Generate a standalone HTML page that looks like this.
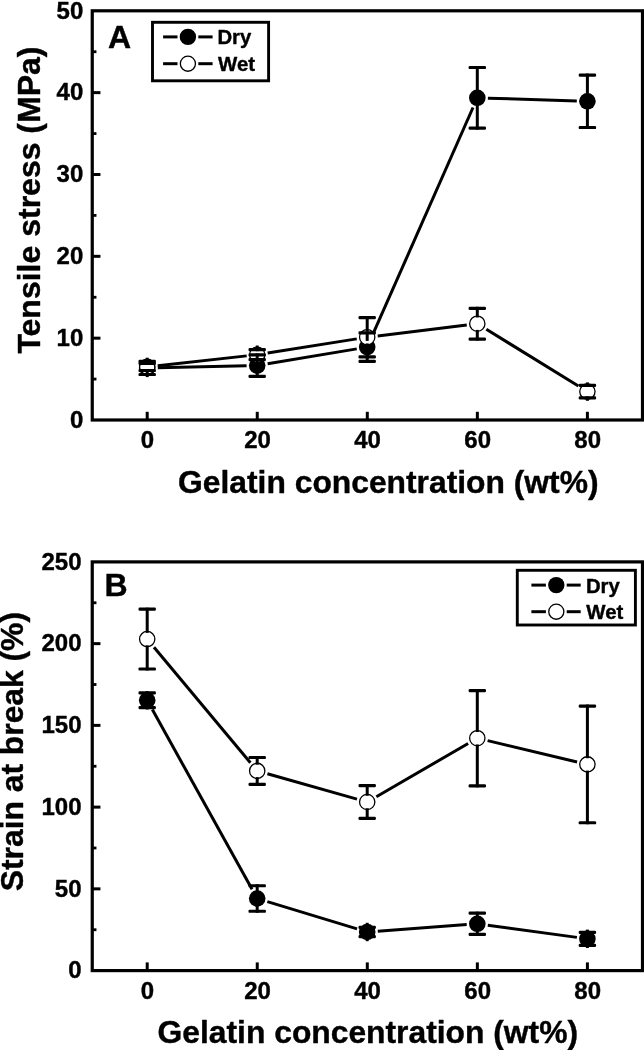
<!DOCTYPE html>
<html lang="en"><head><meta charset="utf-8"><title>Tensile stress and strain at break vs gelatin concentration</title>
<style>html,body{margin:0;padding:0;background:#fff}text{stroke:#000;stroke-width:0.4px;stroke-linejoin:round}body{width:644px;height:1050px;overflow:hidden}svg{display:block}</style>
</head><body>
<svg width="644" height="1050" viewBox="0 0 644 1050" font-family='"Liberation Sans", Arial, Helvetica, sans-serif' fill="#000">
<rect width="644" height="1050" fill="#fff"/>
<rect x="92.25" y="10.8" width="550.25" height="409.2" fill="none" stroke="#000" stroke-width="3.2"/>
<text x="83.3" y="427.80" text-anchor="end" font-size="24" font-weight="bold">0</text>
<line x1="92.25" y1="379.08" x2="96.45" y2="379.08" stroke="#000" stroke-width="2.8"/>
<line x1="92.25" y1="338.16" x2="100.45" y2="338.16" stroke="#000" stroke-width="3"/>
<text x="83.3" y="345.96" text-anchor="end" font-size="24" font-weight="bold">10</text>
<line x1="92.25" y1="297.24" x2="96.45" y2="297.24" stroke="#000" stroke-width="2.8"/>
<line x1="92.25" y1="256.32" x2="100.45" y2="256.32" stroke="#000" stroke-width="3"/>
<text x="83.3" y="264.12" text-anchor="end" font-size="24" font-weight="bold">20</text>
<line x1="92.25" y1="215.40" x2="96.45" y2="215.40" stroke="#000" stroke-width="2.8"/>
<line x1="92.25" y1="174.48" x2="100.45" y2="174.48" stroke="#000" stroke-width="3"/>
<text x="83.3" y="182.28" text-anchor="end" font-size="24" font-weight="bold">30</text>
<line x1="92.25" y1="133.56" x2="96.45" y2="133.56" stroke="#000" stroke-width="2.8"/>
<line x1="92.25" y1="92.64" x2="100.45" y2="92.64" stroke="#000" stroke-width="3"/>
<text x="83.3" y="100.44" text-anchor="end" font-size="24" font-weight="bold">40</text>
<line x1="92.25" y1="51.72" x2="96.45" y2="51.72" stroke="#000" stroke-width="2.8"/>
<text x="83.3" y="18.60" text-anchor="end" font-size="24" font-weight="bold">50</text>
<line x1="147.20" y1="420.0" x2="147.20" y2="411.8" stroke="#000" stroke-width="3"/>
<text x="147.50" y="448.20" text-anchor="middle" font-size="24" font-weight="bold">0</text>
<line x1="257.25" y1="420.0" x2="257.25" y2="411.8" stroke="#000" stroke-width="3"/>
<text x="257.55" y="448.20" text-anchor="middle" font-size="24" font-weight="bold">20</text>
<line x1="367.30" y1="420.0" x2="367.30" y2="411.8" stroke="#000" stroke-width="3"/>
<text x="367.60" y="448.20" text-anchor="middle" font-size="24" font-weight="bold">40</text>
<line x1="477.35" y1="420.0" x2="477.35" y2="411.8" stroke="#000" stroke-width="3"/>
<text x="477.65" y="448.20" text-anchor="middle" font-size="24" font-weight="bold">60</text>
<line x1="587.40" y1="420.0" x2="587.40" y2="411.8" stroke="#000" stroke-width="3"/>
<text x="587.70" y="448.20" text-anchor="middle" font-size="24" font-weight="bold">80</text>
<line x1="157.80" y1="367.68" x2="246.60" y2="365.82" stroke="#000" stroke-width="3.0"/>
<line x1="267.65" y1="363.84" x2="356.75" y2="348.86" stroke="#000" stroke-width="3.0"/>
<line x1="371.48" y1="337.40" x2="473.02" y2="107.50" stroke="#000" stroke-width="3.0"/>
<line x1="487.89" y1="98.14" x2="576.81" y2="100.96" stroke="#000" stroke-width="3.0"/>
<circle cx="147.20" cy="367.90" r="8.3" fill="#000"/>
<circle cx="257.20" cy="365.60" r="8.3" fill="#000"/>
<circle cx="367.20" cy="347.10" r="8.3" fill="#000"/>
<circle cx="477.30" cy="97.80" r="8.3" fill="#000"/>
<circle cx="587.40" cy="101.30" r="8.3" fill="#000"/>
<line x1="157.74" y1="365.73" x2="246.66" y2="355.87" stroke="#000" stroke-width="3.0"/>
<line x1="267.67" y1="353.03" x2="356.73" y2="338.87" stroke="#000" stroke-width="3.0"/>
<line x1="377.72" y1="335.91" x2="466.78" y2="324.99" stroke="#000" stroke-width="3.0"/>
<line x1="486.32" y1="329.26" x2="578.38" y2="386.04" stroke="#000" stroke-width="3.0"/>
<circle cx="147.20" cy="366.90" r="7.65" fill="#fff" stroke="#000" stroke-width="1.3"/>
<circle cx="257.20" cy="354.70" r="7.65" fill="#fff" stroke="#000" stroke-width="1.3"/>
<circle cx="367.20" cy="337.20" r="7.65" fill="#fff" stroke="#000" stroke-width="1.3"/>
<circle cx="477.30" cy="323.70" r="7.65" fill="#fff" stroke="#000" stroke-width="1.3"/>
<circle cx="587.40" cy="391.60" r="7.65" fill="#fff" stroke="#000" stroke-width="1.3"/>
<line x1="147.20" y1="360.20" x2="147.20" y2="361.30" stroke="#000" stroke-width="3.0" stroke-linecap="square"/>
<rect x="138.50" y="359.70" width="17.4" height="3.2" rx="1.2" fill="#000"/>
<line x1="147.20" y1="375.60" x2="147.20" y2="374.50" stroke="#000" stroke-width="3.0" stroke-linecap="square"/>
<rect x="138.50" y="372.90" width="17.4" height="3.2" rx="1.2" fill="#000"/>
<line x1="257.20" y1="357.90" x2="257.20" y2="354.90" stroke="#000" stroke-width="3.0" stroke-linecap="square"/>
<rect x="248.50" y="353.30" width="17.4" height="3.2" rx="1.2" fill="#000"/>
<line x1="257.20" y1="373.30" x2="257.20" y2="376.30" stroke="#000" stroke-width="3.0" stroke-linecap="square"/>
<rect x="248.50" y="374.70" width="17.4" height="3.2" rx="1.2" fill="#000"/>
<line x1="367.20" y1="339.40" x2="367.20" y2="332.80" stroke="#000" stroke-width="3.0" stroke-linecap="square"/>
<rect x="358.50" y="331.20" width="17.4" height="3.2" rx="1.2" fill="#000"/>
<line x1="367.20" y1="354.80" x2="367.20" y2="361.40" stroke="#000" stroke-width="3.0" stroke-linecap="square"/>
<rect x="358.50" y="359.80" width="17.4" height="3.2" rx="1.2" fill="#000"/>
<line x1="477.30" y1="90.10" x2="477.30" y2="67.50" stroke="#000" stroke-width="3.0" stroke-linecap="square"/>
<rect x="468.60" y="65.90" width="17.4" height="3.2" rx="1.2" fill="#000"/>
<line x1="477.30" y1="105.50" x2="477.30" y2="128.10" stroke="#000" stroke-width="3.0" stroke-linecap="square"/>
<rect x="468.60" y="126.50" width="17.4" height="3.2" rx="1.2" fill="#000"/>
<line x1="587.40" y1="93.60" x2="587.40" y2="75.10" stroke="#000" stroke-width="3.0" stroke-linecap="square"/>
<rect x="578.70" y="73.50" width="17.4" height="3.2" rx="1.2" fill="#000"/>
<line x1="587.40" y1="109.00" x2="587.40" y2="127.50" stroke="#000" stroke-width="3.0" stroke-linecap="square"/>
<rect x="578.70" y="125.90" width="17.4" height="3.2" rx="1.2" fill="#000"/>
<line x1="147.20" y1="359.20" x2="147.20" y2="363.30" stroke="#000" stroke-width="3.0" stroke-linecap="square"/>
<rect x="138.50" y="361.70" width="17.4" height="3.2" rx="1.2" fill="#000"/>
<line x1="147.20" y1="374.60" x2="147.20" y2="370.50" stroke="#000" stroke-width="3.0" stroke-linecap="square"/>
<rect x="138.50" y="368.90" width="17.4" height="3.2" rx="1.2" fill="#000"/>
<line x1="257.20" y1="347.00" x2="257.20" y2="349.70" stroke="#000" stroke-width="3.0" stroke-linecap="square"/>
<rect x="248.50" y="348.10" width="17.4" height="3.2" rx="1.2" fill="#000"/>
<line x1="257.20" y1="362.40" x2="257.20" y2="359.70" stroke="#000" stroke-width="3.0" stroke-linecap="square"/>
<rect x="248.50" y="358.10" width="17.4" height="3.2" rx="1.2" fill="#000"/>
<line x1="367.20" y1="329.50" x2="367.20" y2="317.60" stroke="#000" stroke-width="3.0" stroke-linecap="square"/>
<rect x="358.50" y="316.00" width="17.4" height="3.2" rx="1.2" fill="#000"/>
<line x1="367.20" y1="344.90" x2="367.20" y2="356.80" stroke="#000" stroke-width="3.0" stroke-linecap="square"/>
<rect x="358.50" y="355.20" width="17.4" height="3.2" rx="1.2" fill="#000"/>
<line x1="477.30" y1="316.00" x2="477.30" y2="308.30" stroke="#000" stroke-width="3.0" stroke-linecap="square"/>
<rect x="468.60" y="306.70" width="17.4" height="3.2" rx="1.2" fill="#000"/>
<line x1="477.30" y1="331.40" x2="477.30" y2="339.10" stroke="#000" stroke-width="3.0" stroke-linecap="square"/>
<rect x="468.60" y="337.50" width="17.4" height="3.2" rx="1.2" fill="#000"/>
<line x1="587.40" y1="383.90" x2="587.40" y2="385.30" stroke="#000" stroke-width="3.0" stroke-linecap="square"/>
<rect x="578.70" y="383.70" width="17.4" height="3.2" rx="1.2" fill="#000"/>
<line x1="587.40" y1="399.30" x2="587.40" y2="397.90" stroke="#000" stroke-width="3.0" stroke-linecap="square"/>
<rect x="578.70" y="396.30" width="17.4" height="3.2" rx="1.2" fill="#000"/>
<rect x="152.5" y="22.3" width="116.10000000000002" height="58.5" fill="#fff" stroke="#000" stroke-width="2.9"/>
<line x1="163.1" y1="36.9" x2="177.5" y2="36.9" stroke="#000" stroke-width="3"/>
<line x1="198.3" y1="36.9" x2="212.6" y2="36.9" stroke="#000" stroke-width="3"/>
<line x1="163.1" y1="63.7" x2="177.5" y2="63.7" stroke="#000" stroke-width="3"/>
<line x1="198.3" y1="63.7" x2="212.6" y2="63.7" stroke="#000" stroke-width="3"/>
<circle cx="187.9" cy="36.9" r="8.2" fill="#000"/>
<circle cx="187.9" cy="63.7" r="7.55" fill="#fff" stroke="#000" stroke-width="1.3"/>
<text x="217.4" y="44.0" font-size="20.3" font-weight="bold">Dry</text>
<text x="218.0" y="70.6" font-size="20.4" font-weight="bold">Wet</text>
<text x="108.0" y="48.4" font-size="32" font-weight="bold">A</text>
<text x="178.1" y="492.8" font-size="31.8" font-weight="bold">Gelatin concentration (wt%)</text>
<text transform="translate(39.8,353.6) rotate(-90)" font-size="32" font-weight="bold">Tensile stress (MPa)</text>
<rect x="92.25" y="561.9" width="550.25" height="408.70000000000005" fill="none" stroke="#000" stroke-width="3.2"/>
<text x="81.5" y="978.40" text-anchor="end" font-size="24" font-weight="bold">0</text>
<line x1="92.25" y1="929.73" x2="96.45" y2="929.73" stroke="#000" stroke-width="2.8"/>
<line x1="92.25" y1="888.86" x2="100.45" y2="888.86" stroke="#000" stroke-width="3"/>
<text x="81.5" y="896.66" text-anchor="end" font-size="24" font-weight="bold">50</text>
<line x1="92.25" y1="847.99" x2="96.45" y2="847.99" stroke="#000" stroke-width="2.8"/>
<line x1="92.25" y1="807.12" x2="100.45" y2="807.12" stroke="#000" stroke-width="3"/>
<text x="81.5" y="814.92" text-anchor="end" font-size="24" font-weight="bold">100</text>
<line x1="92.25" y1="766.25" x2="96.45" y2="766.25" stroke="#000" stroke-width="2.8"/>
<line x1="92.25" y1="725.38" x2="100.45" y2="725.38" stroke="#000" stroke-width="3"/>
<text x="81.5" y="733.18" text-anchor="end" font-size="24" font-weight="bold">150</text>
<line x1="92.25" y1="684.51" x2="96.45" y2="684.51" stroke="#000" stroke-width="2.8"/>
<line x1="92.25" y1="643.64" x2="100.45" y2="643.64" stroke="#000" stroke-width="3"/>
<text x="81.5" y="651.44" text-anchor="end" font-size="24" font-weight="bold">200</text>
<line x1="92.25" y1="602.77" x2="96.45" y2="602.77" stroke="#000" stroke-width="2.8"/>
<text x="81.5" y="569.70" text-anchor="end" font-size="24" font-weight="bold">250</text>
<line x1="147.20" y1="970.6" x2="147.20" y2="962.4" stroke="#000" stroke-width="3"/>
<text x="147.50" y="998.80" text-anchor="middle" font-size="24" font-weight="bold">0</text>
<line x1="257.25" y1="970.6" x2="257.25" y2="962.4" stroke="#000" stroke-width="3"/>
<text x="257.55" y="998.80" text-anchor="middle" font-size="24" font-weight="bold">20</text>
<line x1="367.30" y1="970.6" x2="367.30" y2="962.4" stroke="#000" stroke-width="3"/>
<text x="367.60" y="998.80" text-anchor="middle" font-size="24" font-weight="bold">40</text>
<line x1="477.35" y1="970.6" x2="477.35" y2="962.4" stroke="#000" stroke-width="3"/>
<text x="477.65" y="998.80" text-anchor="middle" font-size="24" font-weight="bold">60</text>
<line x1="587.40" y1="970.6" x2="587.40" y2="962.4" stroke="#000" stroke-width="3"/>
<text x="587.70" y="998.80" text-anchor="middle" font-size="24" font-weight="bold">80</text>
<line x1="152.34" y1="709.57" x2="252.06" y2="889.23" stroke="#000" stroke-width="3.0"/>
<line x1="267.34" y1="901.59" x2="357.06" y2="928.91" stroke="#000" stroke-width="3.0"/>
<line x1="377.77" y1="931.21" x2="466.73" y2="924.59" stroke="#000" stroke-width="3.0"/>
<line x1="487.80" y1="925.23" x2="576.90" y2="937.37" stroke="#000" stroke-width="3.0"/>
<circle cx="147.20" cy="700.30" r="8.3" fill="#000"/>
<circle cx="257.20" cy="898.50" r="8.3" fill="#000"/>
<circle cx="367.20" cy="932.00" r="8.3" fill="#000"/>
<circle cx="477.30" cy="923.80" r="8.3" fill="#000"/>
<circle cx="587.40" cy="938.80" r="8.3" fill="#000"/>
<line x1="153.99" y1="647.24" x2="250.41" y2="762.76" stroke="#000" stroke-width="3.0"/>
<line x1="267.40" y1="773.78" x2="357.00" y2="799.12" stroke="#000" stroke-width="3.0"/>
<line x1="376.37" y1="796.69" x2="468.13" y2="743.51" stroke="#000" stroke-width="3.0"/>
<line x1="487.61" y1="740.65" x2="577.09" y2="761.95" stroke="#000" stroke-width="3.0"/>
<circle cx="147.20" cy="639.10" r="7.65" fill="#fff" stroke="#000" stroke-width="1.3"/>
<circle cx="257.20" cy="770.90" r="7.65" fill="#fff" stroke="#000" stroke-width="1.3"/>
<circle cx="367.20" cy="802.00" r="7.65" fill="#fff" stroke="#000" stroke-width="1.3"/>
<circle cx="477.30" cy="738.20" r="7.65" fill="#fff" stroke="#000" stroke-width="1.3"/>
<circle cx="587.40" cy="764.40" r="7.65" fill="#fff" stroke="#000" stroke-width="1.3"/>
<line x1="147.20" y1="692.60" x2="147.20" y2="692.95" stroke="#000" stroke-width="3.0" stroke-linecap="square"/>
<rect x="138.50" y="691.35" width="17.4" height="3.2" rx="1.2" fill="#000"/>
<line x1="147.20" y1="708.00" x2="147.20" y2="707.65" stroke="#000" stroke-width="3.0" stroke-linecap="square"/>
<rect x="138.50" y="706.05" width="17.4" height="3.2" rx="1.2" fill="#000"/>
<line x1="257.20" y1="890.80" x2="257.20" y2="885.75" stroke="#000" stroke-width="3.0" stroke-linecap="square"/>
<rect x="248.50" y="884.15" width="17.4" height="3.2" rx="1.2" fill="#000"/>
<line x1="257.20" y1="906.20" x2="257.20" y2="911.25" stroke="#000" stroke-width="3.0" stroke-linecap="square"/>
<rect x="248.50" y="909.65" width="17.4" height="3.2" rx="1.2" fill="#000"/>
<line x1="367.20" y1="924.30" x2="367.20" y2="927.30" stroke="#000" stroke-width="3.0" stroke-linecap="square"/>
<rect x="358.50" y="925.70" width="17.4" height="3.2" rx="1.2" fill="#000"/>
<line x1="367.20" y1="939.70" x2="367.20" y2="936.70" stroke="#000" stroke-width="3.0" stroke-linecap="square"/>
<rect x="358.50" y="935.10" width="17.4" height="3.2" rx="1.2" fill="#000"/>
<line x1="477.30" y1="916.10" x2="477.30" y2="913.20" stroke="#000" stroke-width="3.0" stroke-linecap="square"/>
<rect x="468.60" y="911.60" width="17.4" height="3.2" rx="1.2" fill="#000"/>
<line x1="477.30" y1="931.50" x2="477.30" y2="934.40" stroke="#000" stroke-width="3.0" stroke-linecap="square"/>
<rect x="468.60" y="932.80" width="17.4" height="3.2" rx="1.2" fill="#000"/>
<line x1="587.40" y1="931.10" x2="587.40" y2="932.30" stroke="#000" stroke-width="3.0" stroke-linecap="square"/>
<rect x="578.70" y="930.70" width="17.4" height="3.2" rx="1.2" fill="#000"/>
<line x1="587.40" y1="946.50" x2="587.40" y2="945.30" stroke="#000" stroke-width="3.0" stroke-linecap="square"/>
<rect x="578.70" y="943.70" width="17.4" height="3.2" rx="1.2" fill="#000"/>
<line x1="147.20" y1="631.40" x2="147.20" y2="609.20" stroke="#000" stroke-width="3.0" stroke-linecap="square"/>
<rect x="138.50" y="607.60" width="17.4" height="3.2" rx="1.2" fill="#000"/>
<line x1="147.20" y1="646.80" x2="147.20" y2="669.00" stroke="#000" stroke-width="3.0" stroke-linecap="square"/>
<rect x="138.50" y="667.40" width="17.4" height="3.2" rx="1.2" fill="#000"/>
<line x1="257.20" y1="763.20" x2="257.20" y2="757.50" stroke="#000" stroke-width="3.0" stroke-linecap="square"/>
<rect x="248.50" y="755.90" width="17.4" height="3.2" rx="1.2" fill="#000"/>
<line x1="257.20" y1="778.60" x2="257.20" y2="784.30" stroke="#000" stroke-width="3.0" stroke-linecap="square"/>
<rect x="248.50" y="782.70" width="17.4" height="3.2" rx="1.2" fill="#000"/>
<line x1="367.20" y1="794.30" x2="367.20" y2="785.60" stroke="#000" stroke-width="3.0" stroke-linecap="square"/>
<rect x="358.50" y="784.00" width="17.4" height="3.2" rx="1.2" fill="#000"/>
<line x1="367.20" y1="809.70" x2="367.20" y2="818.40" stroke="#000" stroke-width="3.0" stroke-linecap="square"/>
<rect x="358.50" y="816.80" width="17.4" height="3.2" rx="1.2" fill="#000"/>
<line x1="477.30" y1="730.50" x2="477.30" y2="690.60" stroke="#000" stroke-width="3.0" stroke-linecap="square"/>
<rect x="468.60" y="689.00" width="17.4" height="3.2" rx="1.2" fill="#000"/>
<line x1="477.30" y1="745.90" x2="477.30" y2="785.80" stroke="#000" stroke-width="3.0" stroke-linecap="square"/>
<rect x="468.60" y="784.20" width="17.4" height="3.2" rx="1.2" fill="#000"/>
<line x1="587.40" y1="756.70" x2="587.40" y2="706.05" stroke="#000" stroke-width="3.0" stroke-linecap="square"/>
<rect x="578.70" y="704.45" width="17.4" height="3.2" rx="1.2" fill="#000"/>
<line x1="587.40" y1="772.10" x2="587.40" y2="822.75" stroke="#000" stroke-width="3.0" stroke-linecap="square"/>
<rect x="578.70" y="821.15" width="17.4" height="3.2" rx="1.2" fill="#000"/>
<rect x="517.3" y="570.3" width="118.10000000000002" height="54.700000000000045" fill="#fff" stroke="#000" stroke-width="2.9"/>
<line x1="531.4" y1="585.1" x2="545.9" y2="585.1" stroke="#000" stroke-width="3"/>
<line x1="566.6999999999999" y1="585.1" x2="580.7" y2="585.1" stroke="#000" stroke-width="3"/>
<line x1="531.4" y1="611.7" x2="545.9" y2="611.7" stroke="#000" stroke-width="3"/>
<line x1="566.6999999999999" y1="611.7" x2="580.7" y2="611.7" stroke="#000" stroke-width="3"/>
<circle cx="556.3" cy="585.1" r="8.2" fill="#000"/>
<circle cx="556.3" cy="611.7" r="7.55" fill="#fff" stroke="#000" stroke-width="1.3"/>
<text x="585.9" y="592.6" font-size="20.3" font-weight="bold">Dry</text>
<text x="586.3" y="618.6" font-size="20.4" font-weight="bold">Wet</text>
<text x="104.4" y="595.9" font-size="32" font-weight="bold">B</text>
<text x="157.6" y="1042.8" font-size="31.8" font-weight="bold">Gelatin concentration (wt%)</text>
<text transform="translate(23.3,891.2) rotate(-90)" font-size="31.8" font-weight="bold">Strain at break (%)</text>
</svg>
</body></html>
